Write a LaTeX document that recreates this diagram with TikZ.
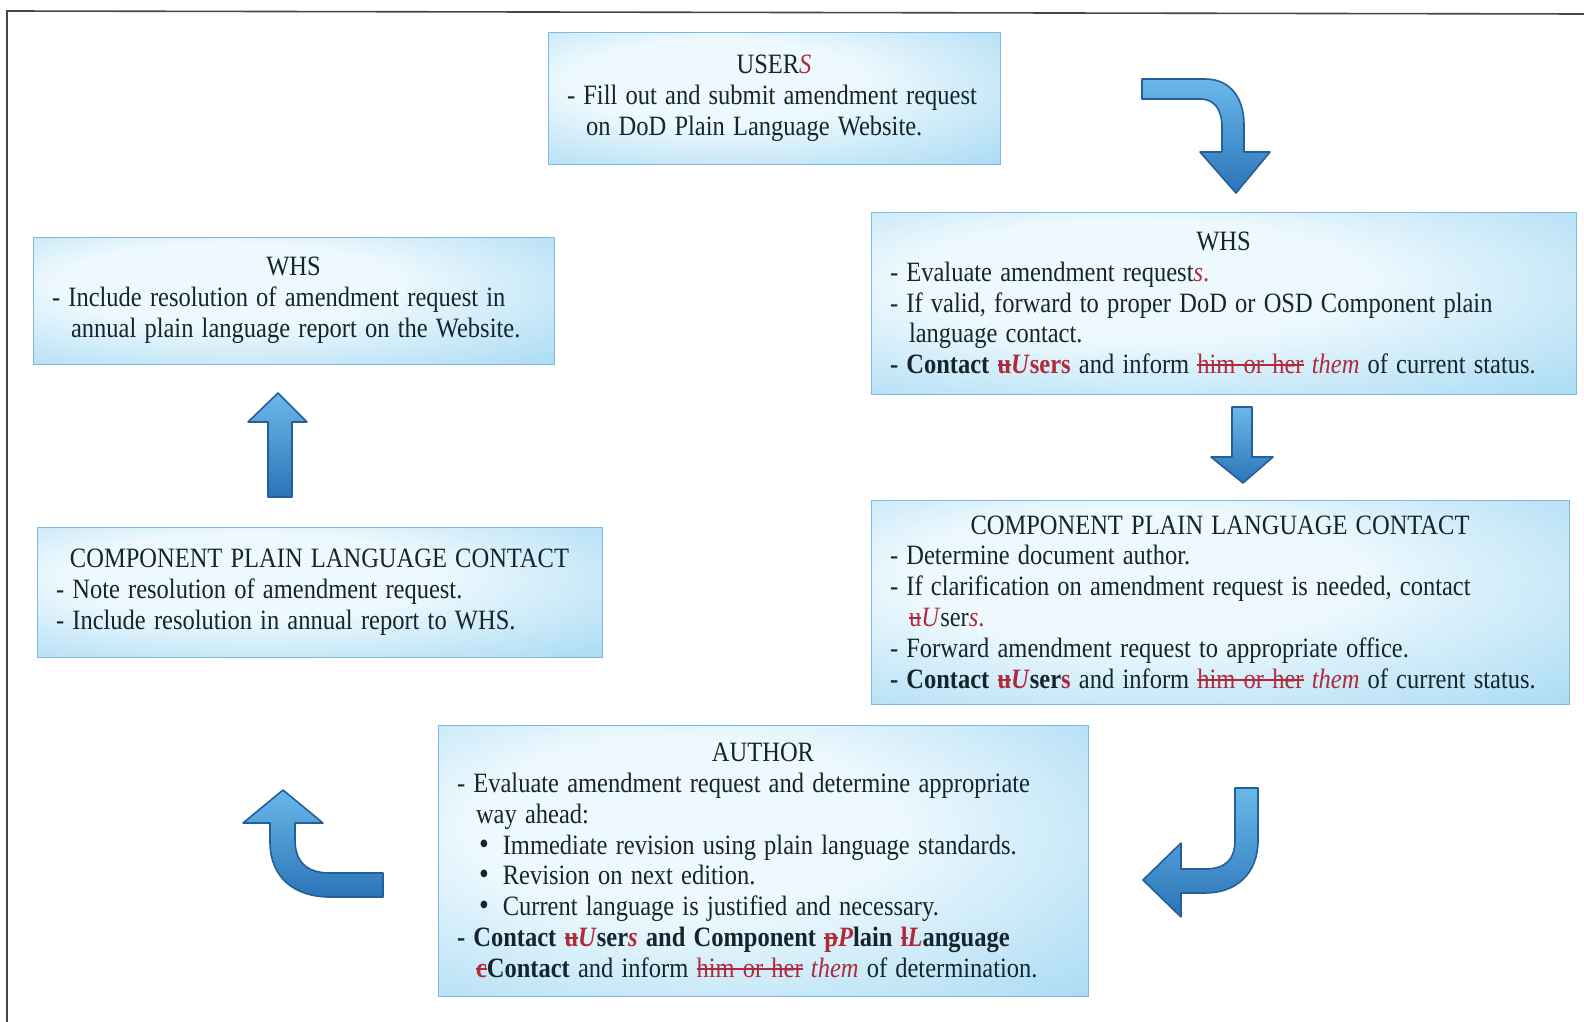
\documentclass[tikz,border=0pt]{standalone}
\usepackage{fontspec}
\setmainfont[FakeStretch=0.875]{Liberation Serif}
\definecolor{txt}{HTML}{14262B}
\definecolor{redtxt}{HTML}{B02A3A}
\definecolor{bxin}{HTML}{EEF9FE}
\definecolor{bxmid}{HTML}{ACDCF4}
\definecolor{bxout}{HTML}{58ABE0}
\definecolor{boxedge}{HTML}{7DB9E0}
\definecolor{arrtop}{HTML}{6AB8EA}
\definecolor{arrbot}{HTML}{2B74B8}
\definecolor{arredge}{HTML}{245F99}
\definecolor{framecol}{HTML}{3D4B50}
\pgfdeclareradialshading{boxshade}{\pgfpoint{-8bp}{8bp}}{color(0bp)=(bxin); color(16bp)=(bxin); color(40bp)=(bxmid); color(56bp)=(bxout); color(75bp)=(bxout)}
\newsavebox{\stbox}
\newcommand{\rd}[1]{\textcolor{redtxt}{#1}}
\newcommand{\strk}[1]{\sbox{\stbox}{\color{redtxt}#1}{\color{redtxt}\rlap{\rule[0.27em]{\wd\stbox}{0.07em}}}\usebox{\stbox}}
\newcommand{\Ln}[1]{\mbox{#1}\par}
\newcommand{\Ttl}[1]{{\centering\mbox{#1}\par}}
\newcommand{\ind}{\hspace*{9.5pt}}
\newcommand{\bul}{\hspace*{11pt}{\fontsize{16}{15.4}\selectfont\textbullet}\hspace{7pt}}
\newcommand{\boxsetup}{\setlength{\parindent}{0pt}\raggedright\setlength{\spaceskip}{4.1pt plus 1pt minus 0.5pt}}
\begin{document}
\begin{tikzpicture}[x=0.5pt,y=-0.5pt,
  box/.style={shading=boxshade, draw=boxedge, line width=0.5pt, inner xsep=9.5pt, inner ysep=3pt,
    text=txt, font=\fontsize{14}{15.4}\selectfont,
    execute at begin node=\boxsetup},
  blockarrow/.style={top color=arrtop, bottom color=arrbot, draw=arredge, line width=0.8pt, line join=round},
  frameline/.style={draw=framecol, line width=0.8pt}]
\useasboundingbox (0,0) rectangle (1584,1022);
\fill[white] (0,0) rectangle (1584,1022);
\draw[frameline] (7,1022) -- (7,11) -- (1584,14);

\node[box, text width=207pt, minimum height=65.5pt] (users) at (774,98.5) {%
\Ttl{USER\rd{\textit{S}}}
\Ln{- Fill out and submit amendment request}
\Ln{\ind on DoD Plain Language Website.}};

\node[box, text width=333.5pt, minimum height=91pt] (whsR) at (1223.5,303) {%
\Ttl{WHS}
\Ln{- Evaluate amendment request\rd{\textit{s}.}}
\Ln{- If valid, forward to proper DoD or OSD Component plain}
\Ln{\ind language contact.}
\Ln{\textbf{- Contact \strk{u}\rd{\textit{U}sers}} and inform \strk{him or her} \rd{\textit{them}} of current status.}};

\node[box, text width=241.5pt, minimum height=63.5pt] (whsL) at (293.5,300.5) {%
\Ttl{WHS}
\Ln{- Include resolution of amendment request in}
\Ln{\ind annual plain language report on the Website.}};

\node[box, text width=263.5pt, minimum height=65pt] (cplcL) at (319.5,592) {%
\Ttl{COMPONENT PLAIN LANGUAGE CONTACT}
\Ln{- Note resolution of amendment request.}
\Ln{- Include resolution in annual report to WHS.}};

\node[box, text width=330pt, minimum height=102pt] (cplcR) at (1220,602) {%
\Ttl{COMPONENT PLAIN LANGUAGE CONTACT}
\Ln{- Determine document author.}
\Ln{- If clarification on amendment request is needed, contact}
\Ln{\ind\strk{u}\rd{\textit{U}}ser\rd{\textit{s}.}}
\Ln{- Forward amendment request to appropriate office.}
\Ln{\textbf{- Contact \strk{u}\rd{\textit{U}}ser\rd{s}} and inform \strk{him or her} \rd{\textit{them}} of current status.}};

\node[box, text width=306pt, minimum height=135.5pt] (author) at (763,860.5) {%
\Ttl{AUTHOR}
\Ln{- Evaluate amendment request and determine appropriate}
\Ln{\ind way ahead:}
\Ln{\bul Immediate revision using plain language standards.}
\Ln{\bul Revision on next edition.}
\Ln{\bul Current language is justified and necessary.}
\Ln{\textbf{- Contact \strk{u}\rd{\textit{U}}ser\rd{\textit{s}} and Component \strk{p}\rd{\textit{P}}lain \strk{l}\rd{\textit{L}}anguage}}
\Ln{\ind\textbf{\strk{c}Contact} and inform \strk{him or her} \rd{\textit{them}} of determination.}};

% curved arrow: users -> whsR
\path[blockarrow] (1142,79) -- (1205,79) .. controls (1232,79) and (1244,100) .. (1244,125)
  -- (1244,152) -- (1270,152) -- (1236,193) -- (1200,152) -- (1222,152) -- (1222,128)
  .. controls (1222,110) and (1215,99) .. (1200,99) -- (1142,99) -- cycle;
% straight arrow: whsR -> cplcR
\path[blockarrow] (1232,407) -- (1252,407) -- (1252,457) -- (1273,457) -- (1243,483)
  -- (1211,457) -- (1232,457) -- cycle;
% curved arrow: cplcR -> author
\path[blockarrow] (1235,788) -- (1258,788) -- (1258,840) .. controls (1258,875) and (1235,893) .. (1205,893)
  -- (1181,893) -- (1181,917) -- (1143,880) -- (1181,843) -- (1181,869) -- (1205,869)
  .. controls (1225,869) and (1235,860) .. (1235,840) -- cycle;
% curved arrow: author -> cplcL
\path[blockarrow] (383,873) -- (330,873) .. controls (305,873) and (295,860) .. (295,840)
  -- (295,823) -- (323,823) -- (283,790) -- (243,823) -- (270,823) -- (270,842)
  .. controls (270,878) and (295,897) .. (330,897) -- (383,897) -- cycle;
% straight arrow: cplcL -> whsL
\path[blockarrow] (268,497) -- (292,497) -- (292,422) -- (307,422) -- (278,393)
  -- (248,422) -- (268,422) -- cycle;
\end{tikzpicture}
\end{document}
